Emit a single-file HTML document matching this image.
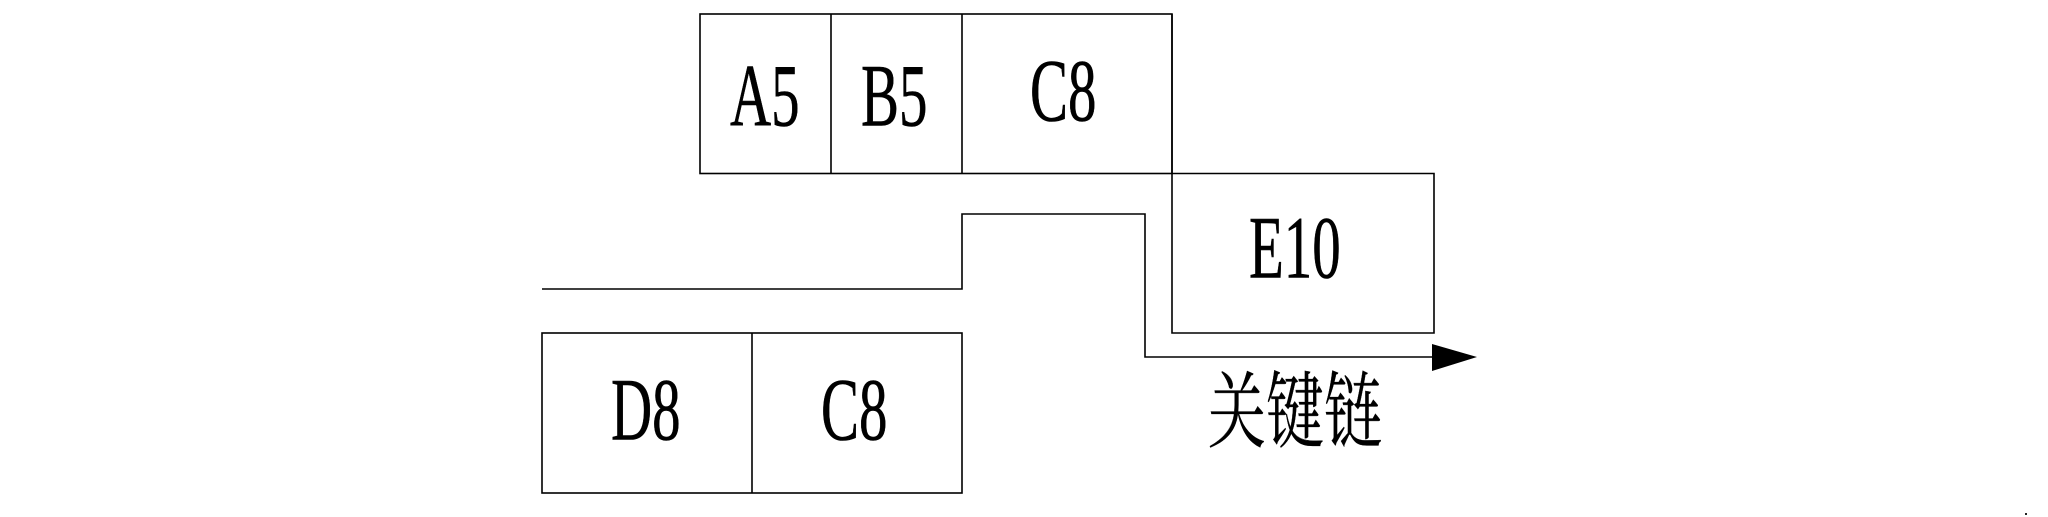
<!DOCTYPE html>
<html>
<head>
<meta charset="utf-8">
<style>
html,body{margin:0;padding:0;background:#fff;width:2048px;height:517px;overflow:hidden}
svg{display:block}
text{font-family:"Liberation Serif","Noto Serif CJK SC",serif;fill:#000;stroke:#000;stroke-width:.6}
</style>
</head>
<body>
<svg width="2048" height="517" viewBox="0 0 2048 517" xmlns="http://www.w3.org/2000/svg">
<rect width="2048" height="517" fill="#fff"/>
<g fill="none" stroke="#000" stroke-width="1.6">
<rect x="700" y="14" width="472" height="159.500"/>
<path d="M831 14V173.500M962 14V173.500"/>
<path d="M1172 173.500H1434V333H1172V14"/>
<path d="M542 289H962V214H1145V357H1435"/>
<rect x="542" y="333" width="420" height="160"/>
<path d="M752 333V493"/>
</g>
<path d="M1432 344L1477 357L1432 371Z" fill="#000"/>
<rect x="2025" y="513" width="2" height="2" fill="#222"/>
<g font-size="89">
<text transform="translate(730,125.500) scale(.64,1)">A5</text>
<text transform="translate(861,125.500) scale(.64,1)">B5</text>
<text transform="translate(1030,120.500) scale(.64,1)">C8</text>
<text transform="translate(1249,277.500) scale(.64,1)">E10</text>
<text transform="translate(611,439.500) scale(.64,1)">D8</text>
<text transform="translate(821,439.500) scale(.64,1)">C8</text>
</g>
<text transform="translate(1208,441) scale(1,1.44)" font-size="58" style="font-family:'Noto Serif CJK SC',serif;stroke-width:.2">关键链</text>
</svg>
</body>
</html>
